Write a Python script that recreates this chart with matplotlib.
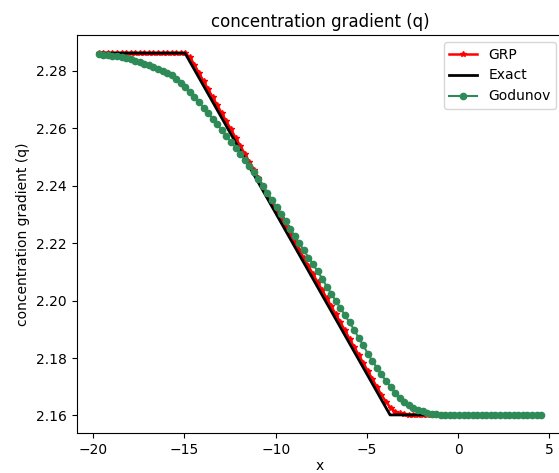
import numpy as np
import matplotlib
matplotlib.use('Agg')
import matplotlib.pyplot as plt

# 网格 (单元中心)
x_start, x_end, n_cells = -19.7, 4.55, 98
x = np.linspace(x_start, x_end, n_cells)

# 精确解 (分段线性, 只给拐点)
x_exact = [-19.7, -14.97, -3.73, 4.55]
q_exact = [2.2862, 2.2862, 2.1602, 2.1602]

# GRP 格式
q_grp = [
    2.2862, 2.2862, 2.2862, 2.2862, 2.2862, 2.2862, 2.2862, 2.2862, 2.2862, 2.2862,
    2.2862, 2.2862, 2.2862, 2.2862, 2.2862, 2.2862, 2.2862, 2.2862, 2.2862, 2.2861,
    2.2847, 2.2821, 2.2792, 2.2764, 2.2736, 2.2708, 2.2680, 2.2652, 2.2624, 2.2596,
    2.2568, 2.2540, 2.2512, 2.2484, 2.2456, 2.2428, 2.2400, 2.2372, 2.2344, 2.2316,
    2.2288, 2.2260, 2.2232, 2.2204, 2.2176, 2.2148, 2.2120, 2.2092, 2.2064, 2.2036,
    2.2008, 2.1980, 2.1952, 2.1924, 2.1896, 2.1867, 2.1839, 2.1811, 2.1783, 2.1755,
    2.1727, 2.1699, 2.1671, 2.1648, 2.1626, 2.1613, 2.1607, 2.1604, 2.1603, 2.1602,
    2.1602, 2.1602, 2.1602, 2.1602, 2.1602, 2.1602, 2.1602, 2.1602, 2.1602, 2.1602,
    2.1602, 2.1602, 2.1602, 2.1602, 2.1602, 2.1602, 2.1602, 2.1602, 2.1602, 2.1602,
    2.1602, 2.1602, 2.1602, 2.1602, 2.1602, 2.1602, 2.1602, 2.1602,
]

# Godunov 格式
q_god = [
    2.2858, 2.2857, 2.2855, 2.2853, 2.2851, 2.2848, 2.2844, 2.2840, 2.2835, 2.2830,
    2.2825, 2.2819, 2.2813, 2.2806, 2.2799, 2.2792, 2.2784, 2.2773, 2.2759, 2.2743,
    2.2726, 2.2708, 2.2690, 2.2672, 2.2653, 2.2633, 2.2614, 2.2594, 2.2574, 2.2553,
    2.2533, 2.2512, 2.2490, 2.2469, 2.2447, 2.2424, 2.2400, 2.2375, 2.2351, 2.2326,
    2.2301, 2.2276, 2.2250, 2.2225, 2.2200, 2.2175, 2.2150, 2.2127, 2.2102, 2.2077,
    2.2049, 2.2024, 2.1999, 2.1974, 2.1949, 2.1924, 2.1899, 2.1870, 2.1845, 2.1815,
    2.1790, 2.1766, 2.1743, 2.1720, 2.1699, 2.1679, 2.1662, 2.1648, 2.1636, 2.1627,
    2.1620, 2.1614, 2.1609, 2.1606, 2.1604, 2.1603, 2.1603, 2.1603, 2.1603, 2.1603,
    2.1603, 2.1603, 2.1603, 2.1603, 2.1603, 2.1603, 2.1603, 2.1603, 2.1603, 2.1603,
    2.1603, 2.1603, 2.1603, 2.1603, 2.1603, 2.1603, 2.1603, 2.1603,
]

fig = plt.figure(figsize=(5.59, 4.73), dpi=100)
ax = fig.add_axes([76.6 / 559, 40 / 473, 486.6 / 559, 398 / 473])

ax.plot(x, q_grp, 'r-*', markersize=4, linewidth=1.8, label='GRP')
ax.plot(x_exact, q_exact, 'k-', linewidth=2, label='Exact')
ax.plot(x, q_god, '-o', color='seagreen', markersize=4.5, linewidth=1.5, label='Godunov')

ax.set_xlim(-20.9125, 5.7625)
ax.set_ylim(2.1539, 2.2925)
ax.set_xlabel('x', labelpad=1.5)
ax.set_ylabel('concentration gradient (q)')
ax.set_title('concentration gradient (q)')
ax.legend(loc='upper right')

plt.savefig('out.png', dpi=100)
plt.close()
